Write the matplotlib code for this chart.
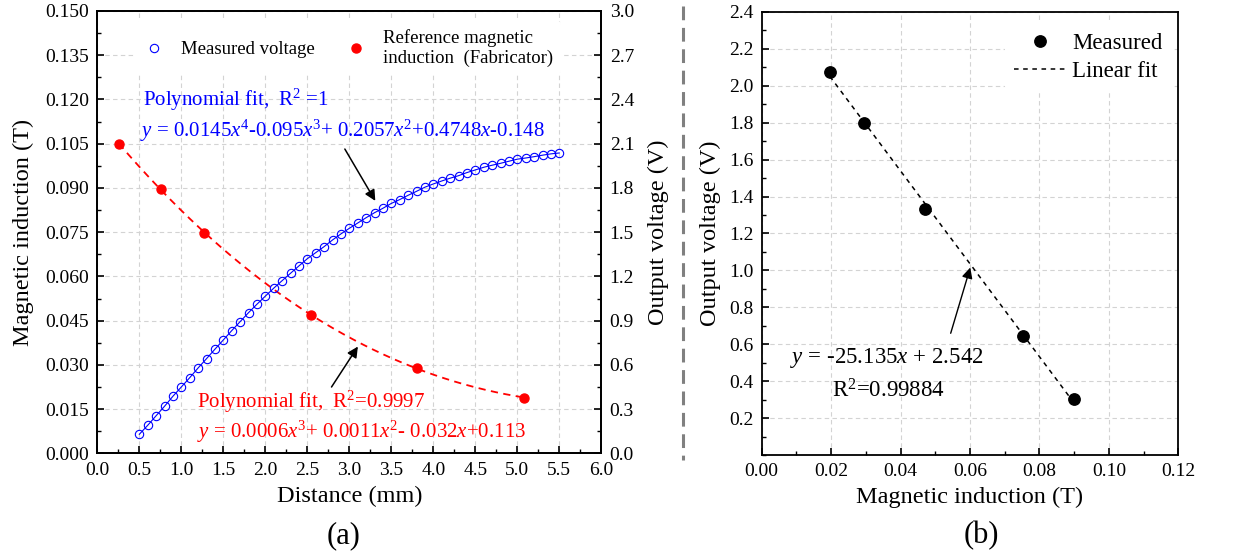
import numpy as np
import matplotlib
matplotlib.use("Agg")
import matplotlib.pyplot as plt
from matplotlib.lines import Line2D
from matplotlib.ticker import MultipleLocator, FormatStrFormatter

plt.rcParams['font.family'] = ['Liberation Serif', 'DejaVu Serif']
plt.rcParams['mathtext.fontset'] = 'custom'
plt.rcParams['mathtext.rm'] = 'Liberation Serif'
plt.rcParams['mathtext.it'] = 'Liberation Serif:italic'
plt.rcParams['axes.linewidth'] = 1.3

# (a) reference magnetic induction from the fabricator (left axis, T)
ref_dist = [0.254, 0.762, 1.27, 2.54, 3.81, 5.08]
ref_field = [0.1049, 0.0897, 0.0748, 0.0469, 0.0288, 0.0189]

# (a) measured output voltage (right axis, V)
meas_dist = [0.5, 0.6, 0.7, 0.8, 0.9, 1.0, 1.1, 1.2, 1.3, 1.4, 1.5, 1.6, 1.7,
             1.8, 1.9, 2.0, 2.1, 2.2, 2.3, 2.4, 2.5, 2.6, 2.7, 2.8, 2.9, 3.0,
             3.1, 3.2, 3.3, 3.4, 3.5, 3.6, 3.7, 3.8, 3.9, 4.0, 4.1, 4.2, 4.3,
             4.4, 4.5, 4.6, 4.7, 4.8, 4.9, 5.0, 5.1, 5.2, 5.3, 5.4, 5.5]
meas_volt = [0.129, 0.190, 0.255, 0.319, 0.387, 0.450, 0.513, 0.579, 0.642,
             0.706, 0.769, 0.832, 0.893, 0.954, 1.011, 1.066, 1.120, 1.171,
             1.221, 1.271, 1.320, 1.361, 1.402, 1.447, 1.488, 1.526, 1.562,
             1.598, 1.632, 1.662, 1.695, 1.721, 1.750, 1.777, 1.805, 1.827,
             1.847, 1.866, 1.883, 1.904, 1.922, 1.940, 1.954, 1.967, 1.981,
             1.995, 2.003, 2.012, 2.022, 2.031, 2.037]

# (b) output voltage vs magnetic induction
cal_field = [0.0196, 0.0295, 0.0470, 0.0753, 0.0899]
cal_volt = [2.077, 1.796, 1.333, 0.642, 0.303]

fig = plt.figure(figsize=(12.35, 5.58), dpi=100)
ax = fig.add_axes([0.0788, 0.1876, 0.4081, 0.7927])
ax2 = ax.twinx()
axb = fig.add_axes([0.6168, 0.1846, 0.3373, 0.794])

grid_kw = dict(color='#d3d3d3', ls=(0, (4, 3)), lw=0.8)
tick_kw = dict(direction='in', labelsize=14, width=1.2, pad=6)

# ---- panel (a) ----
fit_red = np.poly1d(np.polyfit(ref_dist, ref_field, 3))
xs = np.linspace(ref_dist[0], ref_dist[-1], 200)
ax.plot(xs, fit_red(xs), color='red', ls=(0, (4, 3)), lw=1.3, zorder=2)
h_red, = ax.plot(ref_dist, ref_field, 'o', color='red', ms=6.5, zorder=3,
                 label='Reference magnetic\ninduction  (Fabricator)')
ax2.plot(meas_dist, meas_volt, '-', color='blue', lw=0.8)
h_blue, = ax2.plot(meas_dist, meas_volt, 'o', color='blue', mfc='none',
                   ms=6, mew=0.8, label='Measured voltage')

ax.set_xlim(0, 6)
ax.set_ylim(0, 0.15)
ax2.set_ylim(0, 3.0)
ax.xaxis.set_major_locator(MultipleLocator(0.5))
ax.xaxis.set_minor_locator(MultipleLocator(0.25))
ax.xaxis.set_major_formatter(FormatStrFormatter('%.1f'))
ax.yaxis.set_major_locator(MultipleLocator(0.015))
ax.yaxis.set_minor_locator(MultipleLocator(0.0075))
ax.yaxis.set_major_formatter(FormatStrFormatter('%.3f'))
ax2.yaxis.set_major_locator(MultipleLocator(0.3))
ax2.yaxis.set_minor_locator(MultipleLocator(0.15))
ax2.yaxis.set_major_formatter(FormatStrFormatter('%.1f'))
for a in (ax, ax2):
    a.tick_params(which='major', length=5, **tick_kw)
    a.tick_params(which='minor', direction='in', length=3, width=1.0)
for s in ax2.spines.values():
    s.set_linewidth(1.3)
ax.grid(True, which='major', **grid_kw)
ax.set_axisbelow(True)

ax.set_xlabel('Distance (mm)', fontsize=17.5, labelpad=5)
ax.set_ylabel('Magnetic induction (T)', fontsize=17.5, labelpad=8)
ax2.set_ylabel('Output voltage (V)', fontsize=17.5, labelpad=10)

leg = ax2.legend([h_blue, h_red], [h_blue.get_label(), h_red.get_label()],
                 ncol=2, loc='upper center', bbox_to_anchor=(0.497, 0.985),
                 fontsize=13.5, frameon=True, framealpha=1, edgecolor='none',
                 handlelength=1.2, columnspacing=1.6, handletextpad=0.85,
                 borderaxespad=0.2)

ax.text(0.544, 0.1198, r'Polynomial fit,  R$^2$ =1', color='blue',
        fontsize=15, ha='left', va='center')
ax.text(0.51, 0.1093,
        r'$y$ = 0.0145$x^4$-0.095$x^3$+ 0.2057$x^2$+0.4748$x$-0.148',
        color='blue', fontsize=15, ha='left', va='center')
ax.annotate('', xy=(3.326, 0.0848), xytext=(2.93, 0.104),
            arrowprops=dict(arrowstyle='-|>', color='k', lw=1.1,
                            mutation_scale=16))

ax.text(1.19, 0.0175, r'Polynomial fit,  R$^2$=0.9997', color='red',
        fontsize=15, ha='left', va='center')
ax.text(1.19, 0.0073, r'$y$ = 0.0006$x^3$+ 0.0011$x^2$- 0.032$x$+0.113',
        color='red', fontsize=15, ha='left', va='center')
ax.annotate('', xy=(3.12, 0.0370), xytext=(2.77, 0.0217),
            arrowprops=dict(arrowstyle='-|>', color='k', lw=1.1,
                            mutation_scale=16))

# ---- panel (b) ----
fit_lin = np.poly1d(np.polyfit(cal_field, cal_volt, 1))
bx = np.linspace(cal_field[0], cal_field[-1], 50)
axb.plot(bx, fit_lin(bx), color='k', ls=(0, (3, 3)), lw=1.1,
         label='Linear fit', zorder=2)
axb.plot(cal_field, cal_volt, 'o', color='k', ms=8.2, label='Measured',
         zorder=3)
axb.set_xlim(0, 0.12)
axb.set_ylim(0, 2.4)
axb.xaxis.set_major_locator(MultipleLocator(0.02))
axb.xaxis.set_minor_locator(MultipleLocator(0.01))
axb.xaxis.set_major_formatter(FormatStrFormatter('%.2f'))
axb.set_yticks([0.2, 0.4, 0.6, 0.8, 1.0, 1.2, 1.4, 1.6, 1.8, 2.0, 2.2, 2.4])
axb.yaxis.set_minor_locator(MultipleLocator(0.1))
axb.yaxis.set_major_formatter(FormatStrFormatter('%.1f'))
axb.tick_params(which='major', length=5, top=False, right=False, **tick_kw)
axb.tick_params(which='minor', direction='in', length=3, width=1.0)
axb.grid(True, which='major', **grid_kw)
axb.set_axisbelow(True)
axb.set_xlabel('Magnetic induction (T)', fontsize=17.5, labelpad=5)
axb.set_ylabel('Output voltage (V)', fontsize=17.5, labelpad=6)

handles, labels = axb.get_legend_handles_labels()
axb.legend(handles[::-1], labels[::-1], loc='upper right',
           bbox_to_anchor=(1.012, 1.0), fontsize=16.5,
           frameon=True, framealpha=1, edgecolor='none', handlelength=2.3,
           handletextpad=0.25, borderaxespad=0.5, labelspacing=0.3)

axb.annotate('', xy=(0.0603, 1.03), xytext=(0.0542, 0.645),
             arrowprops=dict(arrowstyle='-|>', color='k', lw=1.0,
                             mutation_scale=16))
axb.text(0.036, 0.528, r'$y$ = -25.135$x$ + 2.542', fontsize=16.5,
         ha='center', va='center')
axb.text(0.0364, 0.348, r'R$^2$=0.99884', fontsize=16.5,
         ha='center', va='center')

# panel labels and separator
fig.text(343.7 / 1235, 1 - 536 / 558, '(a)', fontsize=22, ha='center',
         va='center')
fig.text(981.7 / 1235, 1 - 536 / 558, '(b)', fontsize=22, ha='center',
         va='center')
fig.add_artist(Line2D([683.3 / 1235] * 2, [1 - 6 / 558, 1 - 460 / 558],
                      transform=fig.transFigure, color='#808080', lw=2.2,
                      ls=(0, (4.5, 2.5))))

fig.savefig('out.png', dpi=100)
